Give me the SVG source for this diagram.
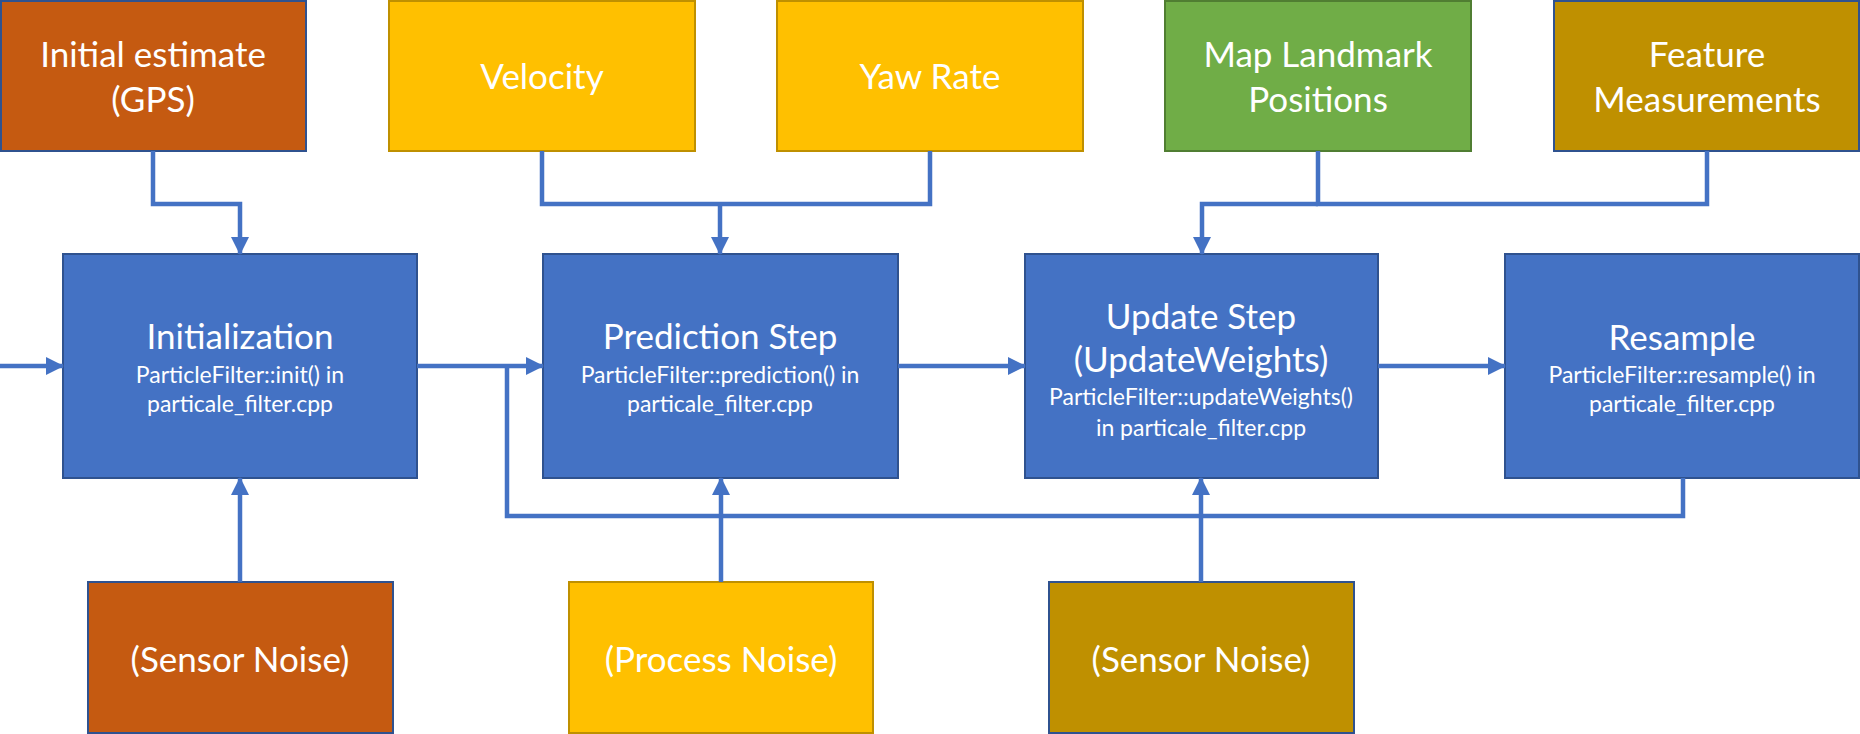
<svg xmlns="http://www.w3.org/2000/svg" width="1860" height="734" viewBox="0 0 1860 734">
<style>
.box{stroke-width:2}
.blue{fill:#4472C4;stroke:#2F528F}
.orange{fill:#C55A11;stroke:#2F528F}
.gold{fill:#FFC000;stroke:#BF9000}
.dgold{fill:#BF9000;stroke:#2F528F}
.green{fill:#70AD47;stroke:#507E32}
text{font-family:Lato,"Open Sans","Liberation Sans",sans-serif;fill:#FFFFFF;text-anchor:middle}
.t{font-size:35px}
.s{font-size:23px}
.c{fill:none;stroke:#4472C4;stroke-width:4.5}
</style>
<defs>
<marker id="ah" markerUnits="userSpaceOnUse" markerWidth="18" markerHeight="18" refX="17" refY="9" orient="auto">
<path d="M0,0 L18,9 L0,18 z" fill="#4472C4"/>
</marker>
</defs>
<g id="initial-estimate"><rect class="box orange" x="1" y="1" width="305" height="150"/><text class="t" x="153" y="67">Initial estimate</text><text class="t" x="153" y="112">(GPS)</text></g>
<g id="velocity"><rect class="box gold" x="389" y="1" width="306" height="150"/><text class="t" x="542" y="89">Velocity</text></g>
<g id="yaw-rate"><rect class="box gold" x="777" y="1" width="306" height="150"/><text class="t" x="930" y="89">Yaw Rate</text></g>
<g id="map-landmark"><rect class="box green" x="1165" y="1" width="306" height="150"/><text class="t" x="1318" y="67">Map Landmark</text><text class="t" x="1318" y="112">Positions</text></g>
<g id="feature-measurements"><rect class="box dgold" x="1554" y="1" width="305" height="150"/><text class="t" x="1707" y="67">Feature</text><text class="t" x="1707" y="112">Measurements</text></g>
<g id="initialization"><rect class="box blue" x="63" y="254" width="354" height="224"/><text class="t" x="240" y="349">Initialization</text><text class="s" x="240" y="383">ParticleFilter::init() in</text><text class="s" x="240" y="412">particale_filter.cpp</text></g>
<g id="prediction"><rect class="box blue" x="543" y="254" width="355" height="224"/><text class="t" x="720" y="349">Prediction Step</text><text class="s" x="720" y="383">ParticleFilter::prediction() in</text><text class="s" x="720" y="412">particale_filter.cpp</text></g>
<g id="update"><rect class="box blue" x="1025" y="254" width="353" height="224"/><text class="t" x="1201" y="329">Update Step</text><text class="t" x="1201" y="372">(UpdateWeights)</text><text class="s" x="1201" y="405">ParticleFilter::updateWeights()</text><text class="s" x="1201" y="436">in particale_filter.cpp</text></g>
<g id="resample"><rect class="box blue" x="1505" y="254" width="354" height="224"/><text class="t" x="1682" y="350">Resample</text><text class="s" x="1682" y="383">ParticleFilter::resample() in</text><text class="s" x="1682" y="412">particale_filter.cpp</text></g>
<g id="sensor-noise-1"><rect class="box orange" x="88" y="582" width="305" height="151"/><text class="t" x="240" y="672">(Sensor Noise)</text></g>
<g id="process-noise"><rect class="box gold" x="569" y="582" width="304" height="151"/><text class="t" x="721" y="672">(Process Noise)</text></g>
<g id="sensor-noise-2"><rect class="box dgold" x="1049" y="582" width="305" height="151"/><text class="t" x="1201" y="672">(Sensor Noise)</text></g>
<g id="connectors">
<path class="c" d="M153,151 V204 H240 V254" marker-end="url(#ah)"/>
<path class="c" d="M542,151 V204 H930 V151"/>
<path class="c" d="M720,204 V254" marker-end="url(#ah)"/>
<path class="c" d="M1318,151 V204 H1707 V151"/>
<path class="c" d="M1318,204 H1202 V254" marker-end="url(#ah)"/>
<path class="c" d="M0,366 H63" marker-end="url(#ah)"/>
<path class="c" d="M417,366 H543" marker-end="url(#ah)"/>
<path class="c" d="M898,366 H1025" marker-end="url(#ah)"/>
<path class="c" d="M1378,366 H1505" marker-end="url(#ah)"/>
<path class="c" d="M1683,478 V516 H507 V366"/>
<path class="c" d="M240,582 V478" marker-end="url(#ah)"/>
<path class="c" d="M721,582 V478" marker-end="url(#ah)"/>
<path class="c" d="M1201,582 V478" marker-end="url(#ah)"/>
</g>
</svg>
